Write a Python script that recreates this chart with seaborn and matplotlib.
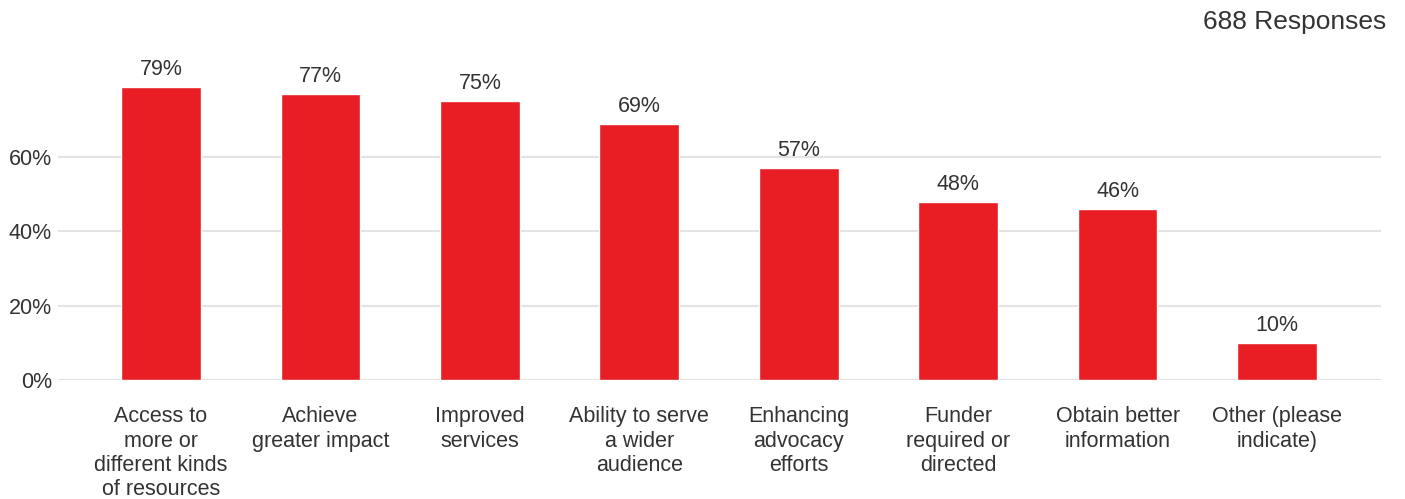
import matplotlib
matplotlib.use("Agg")
import matplotlib.pyplot as plt
import seaborn as sns
import pandas as pd

categories = [
    "Access to\nmore or\ndifferent kinds\nof resources",
    "Achieve\ngreater impact",
    "Improved\nservices",
    "Ability to serve\na wider\naudience",
    "Enhancing\nadvocacy\nefforts",
    "Funder\nrequired or\ndirected",
    "Obtain better\ninformation",
    "Other (please\nindicate)",
]
values = [79, 77, 75, 69, 57, 48, 46, 10]
yticks = [0, 20, 40, 60]
ytick_labels = ["0%", "20%", "40%", "60%"]
responses_text = "688 Responses"

sns.set_theme(style="white")
plt.rcParams['font.family'] = ['Liberation Sans', 'DejaVu Sans']
text_color = "#333333"

df = pd.DataFrame({"cat": categories, "val": values})

fig = plt.figure(figsize=(14.05, 4.99), dpi=100)
ax = fig.add_axes([58/1405, (499-380)/499, (1381-58)/1405, (380-82.8)/499])

sns.barplot(data=df, x="cat", y="val", color="#E91E25", saturation=1, width=0.5, ax=ax, zorder=3)

ax.set_ylim(0, 80)
ax.set_xlim(-0.646, 7.652)
ax.set_yticks(yticks)
ax.set_yticklabels(ytick_labels)
ax.yaxis.grid(True, color="#e3e3e3", linewidth=1.5, zorder=0)
ax.set_axisbelow(True)
for s in ax.spines.values():
    s.set_visible(False)
ax.set_xlabel("")
ax.set_ylabel("")
ax.tick_params(axis="both", length=0, labelsize=15.5, colors=text_color)
ax.tick_params(axis="y", pad=4.5)
ax.tick_params(axis="x", pad=19)
for lab in ax.get_xticklabels():
    lab.set_linespacing(1.2)
    lab.set_va("top")

for c in ax.containers:
    ax.bar_label(c, labels=[f"{v}%" for v in values], padding=5, fontsize=15.5, color=text_color)

fig.text(1386/1405, 1 - 22/499, responses_text, ha="right", va="center", fontsize=19, color=text_color)

fig.savefig("out.png", dpi=100)
